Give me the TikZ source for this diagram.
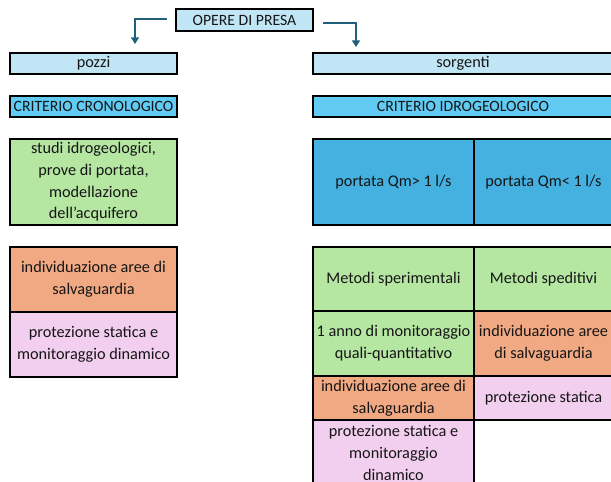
\documentclass[tikz,border=0pt]{standalone}
\usepackage{fontspec}
\usepackage{xcolor}
\setmainfont{Carlito}
\usetikzlibrary{arrows.meta}

\definecolor{lightblue}{HTML}{C0E6F5}
\definecolor{midblue}{HTML}{61CBF3}
\definecolor{deepblue}{HTML}{45B1E0}
\definecolor{softgreen}{HTML}{B5E6A2}
\definecolor{softorange}{HTML}{F1A983}
\definecolor{softpink}{HTML}{F2CEEF}
\definecolor{arrowteal}{RGB}{33,95,122}
\definecolor{inktext}{HTML}{161616}

\tikzset{
	cell/.style={draw=black, line width=1.5pt, align=center, inner sep=0pt,
		text=inktext, font=\fontsize{12.2}{16.3}\selectfont},
	caps/.style={font=\fontsize{11.8}{16.3}\selectfont},
	sz/.style 2 args={minimum width=#1*0.75pt, minimum height=#2*0.75pt},
	arr/.style={draw=arrowteal, line width=1.3pt, -{Triangle[length=5pt,width=6pt]}}
}

\begin{document}
\begin{tikzpicture}[x=0.75pt, y=-0.75pt]
	\useasboundingbox (0,0) rectangle (611,482);

	% top
	\node[cell, caps, fill=lightblue, sz={137}{22}] (opere) at (244.5,20) {OPERE DI PRESA};
	\coordinate (tipL) at (135,44);
	\coordinate (tipR) at (356,47);
	\draw[arr] ([xshift=-6pt, yshift=0.5pt]opere.west) -| (tipL);
	\draw[arr] ([xshift=7pt, yshift=-2pt]opere.east) -| (tipR);

	% pozzi
	\node[cell, fill=lightblue, sz={167}{21}] (pozzi) at (93.5,63.5) {pozzi};
	\node[cell, caps, fill=midblue, sz={167}{21}] (critcron) at (93.5,106.5) {CRITERIO CRONOLOGICO};
	\node[cell, fill=softgreen, sz={167}{86}] (studi) at (93.5,182)
		{studi idrogeologici,\\prove di portata,\\modellazione\\dell'acquifero};
	\node[cell, fill=softorange, sz={167}{65}] (salvpozzi) at (93.5,279.5)
		{individuazione aree di\\salvaguardia};
	\node[cell, fill=softpink, sz={167}{65}] (protpozzi) at (93.5,344.5)
		{protezione statica e\\monitoraggio dinamico};

	% sorgenti
	\node[cell, fill=lightblue, sz={300}{21}] (sorgenti) at (463,63.5) {sorgenti};
	\node[cell, caps, fill=midblue, sz={300}{21}] (critidro) at (463,106.5) {CRITERIO IDROGEOLOGICO};
	\node[cell, fill=deepblue, sz={161}{86}] (qmgt) at (393.5,182) {portata Qm> 1 l/s};
	\node[cell, fill=deepblue, sz={139}{86}] (qmlt) at (543.5,182) {portata Qm< 1 l/s};

	\node[cell, fill=softgreen, sz={161}{64}] (speri) at (393.5,279) {Metodi sperimentali};
	\node[cell, fill=softgreen, sz={139}{64}] (spedi) at (543.5,279) {Metodi speditivi};
	\node[cell, fill=softgreen, sz={161}{65}] (anno) at (393.5,343.5)
		{1 anno di monitoraggio\\quali-quantitativo};
	\node[cell, fill=softorange, sz={139}{65}] (salvsped) at (543.5,343.5)
		{individuazione aree\\di salvaguardia};
	\node[cell, fill=softorange, sz={161}{44}] (salvsper) at (393.5,398)
		{individuazione aree di\\salvaguardia};
	\node[cell, fill=softpink, sz={139}{44}] (protsped) at (543.5,398) {protezione statica};
	\node[cell, fill=softpink, sz={161}{66}] (protsper) at (393.5,453)
		{protezione statica e\\monitoraggio\\dinamico};
\end{tikzpicture}
\end{document}
